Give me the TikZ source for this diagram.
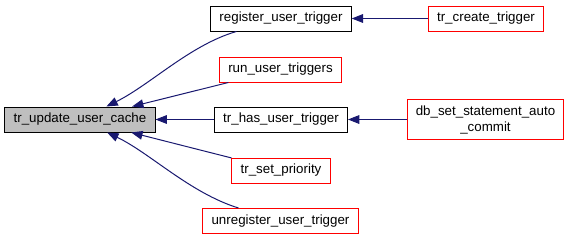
\documentclass[tikz,border=0pt]{standalone}
\usepackage{fontspec}
\setmainfont{Liberation Sans}
\usetikzlibrary{arrows.meta}

\definecolor{edgeblue}{HTML}{191970}
\definecolor{rootgray}{HTML}{BFBFBF}

\tikzset{
    fn/.style={draw=black, fill=white, line width=0.75pt, inner xsep=6.5pt, inner ysep=0pt,
        minimum height=18.75pt, font=\fontsize{10}{12}\selectfont},
    fnmissing/.style={fn, draw=red},
    fnroot/.style={fn, fill=rootgray},
    call/.style={draw=edgeblue, line width=0.75pt, -{Triangle[length=8.5pt,width=6.5pt]}},
}

\begin{document}
\begin{tikzpicture}[x=0.75pt, y=-0.75pt]
    \useasboundingbox (0, 0) rectangle (571, 240);

    % the function itself
    \node[fnroot] (update-cache) at (80, 119.5) {tr\_update\_user\_cache};

    % its callers
    \node[fn] (register) at (281, 18.5) {register\_user\_trigger};
    \node[fnmissing] (run) at (280.5, 69.5) {run\_user\_triggers};
    \node[fn] (has) at (281, 119.5) {tr\_has\_user\_trigger};
    \node[fnmissing] (priority) at (281, 170.5) {tr\_set\_priority};
    \node[fnmissing] (unregister) at (280.5, 221) {unregister\_user\_trigger};

    % callers one level further out
    \node[fnmissing] (create) at (486, 18.5) {tr\_create\_trigger};
    \node[fnmissing, align=center, minimum height=30pt] (autocommit) at (485.5, 119.5)
        {db\_set\_statement\_auto\\\_commit};

    \draw[call] (register) .. controls (190, 45) and (150, 85) .. (update-cache);
    \draw[call] (run) -- (update-cache);
    \draw[call] (has) -- (update-cache);
    \draw[call] (priority) -- (update-cache);
    \draw[call] (unregister) .. controls (190, 193) and (150, 153) .. (update-cache);

    \draw[call] (create) -- (register);
    \draw[call] (autocommit) -- (has);
\end{tikzpicture}
\end{document}
